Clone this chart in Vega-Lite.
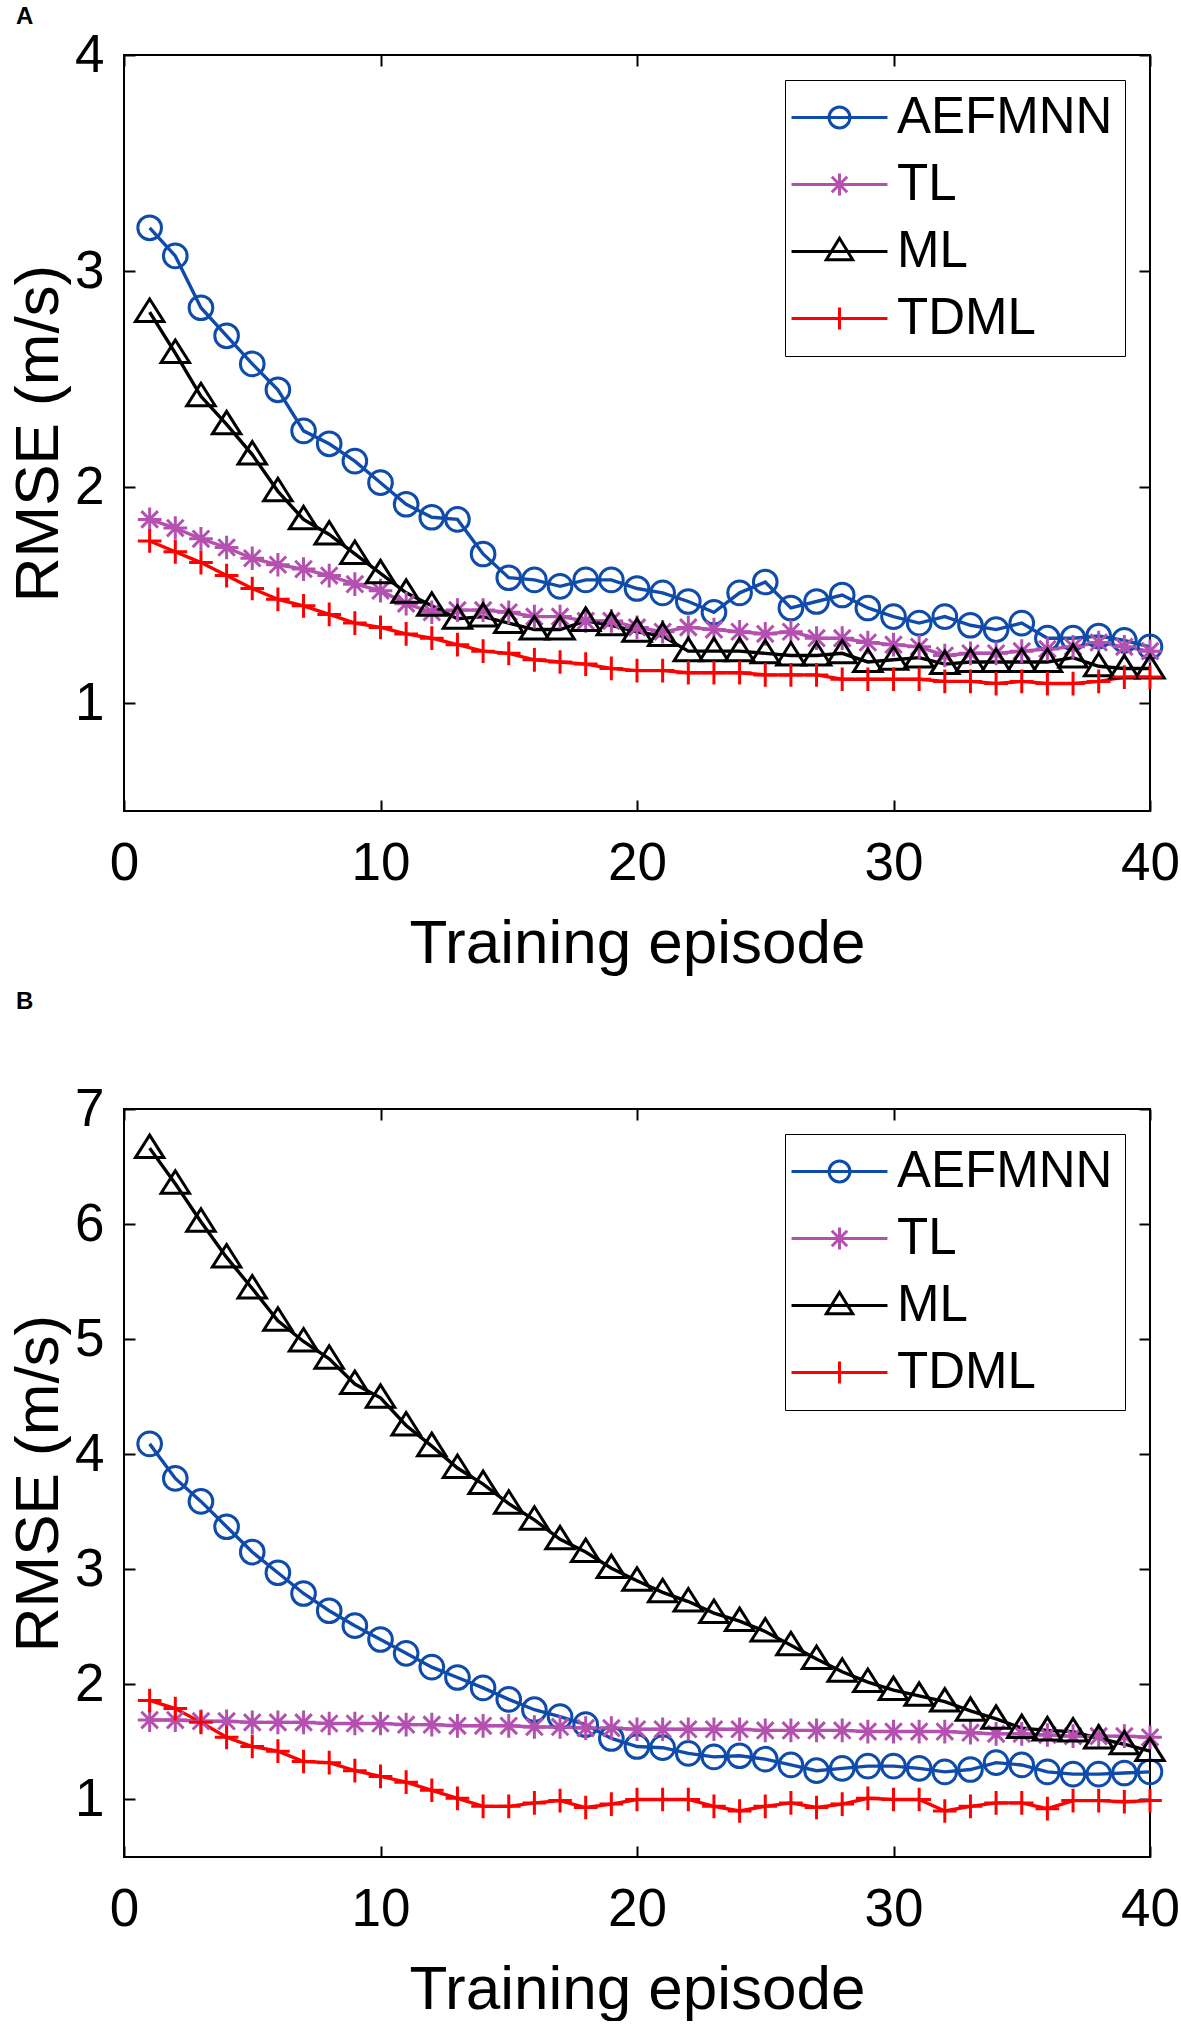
{
  "$schema": "https://vega.github.io/schema/vega-lite/v6.json",
  "background": "white",
  "padding": {"left": 6, "top": 4, "right": 1, "bottom": 0},
  "config": {
    "font": "Liberation Sans",
    "view": {"stroke": "black", "strokeWidth": 2},
    "axis": {"labelColor": "black", "titleColor": "black", "tickColor": "black", "tickWidth": 2, "grid": false, "domain": false}
  },
  "datasets": {
    "rmse": [
      {"panel": "A", "method": "AEFMNN", "episode": 1, "rmse": 3.20}, {"panel": "A", "method": "AEFMNN", "episode": 2, "rmse": 3.07}, {"panel": "A", "method": "AEFMNN", "episode": 3, "rmse": 2.83}, {"panel": "A", "method": "AEFMNN", "episode": 4, "rmse": 2.70},
      {"panel": "A", "method": "AEFMNN", "episode": 5, "rmse": 2.57}, {"panel": "A", "method": "AEFMNN", "episode": 6, "rmse": 2.45}, {"panel": "A", "method": "AEFMNN", "episode": 7, "rmse": 2.26}, {"panel": "A", "method": "AEFMNN", "episode": 8, "rmse": 2.20},
      {"panel": "A", "method": "AEFMNN", "episode": 9, "rmse": 2.12}, {"panel": "A", "method": "AEFMNN", "episode": 10, "rmse": 2.02}, {"panel": "A", "method": "AEFMNN", "episode": 11, "rmse": 1.92}, {"panel": "A", "method": "AEFMNN", "episode": 12, "rmse": 1.86},
      {"panel": "A", "method": "AEFMNN", "episode": 13, "rmse": 1.85}, {"panel": "A", "method": "AEFMNN", "episode": 14, "rmse": 1.69}, {"panel": "A", "method": "AEFMNN", "episode": 15, "rmse": 1.58}, {"panel": "A", "method": "AEFMNN", "episode": 16, "rmse": 1.57},
      {"panel": "A", "method": "AEFMNN", "episode": 17, "rmse": 1.54}, {"panel": "A", "method": "AEFMNN", "episode": 18, "rmse": 1.57}, {"panel": "A", "method": "AEFMNN", "episode": 19, "rmse": 1.57}, {"panel": "A", "method": "AEFMNN", "episode": 20, "rmse": 1.53},
      {"panel": "A", "method": "AEFMNN", "episode": 21, "rmse": 1.51}, {"panel": "A", "method": "AEFMNN", "episode": 22, "rmse": 1.47}, {"panel": "A", "method": "AEFMNN", "episode": 23, "rmse": 1.42}, {"panel": "A", "method": "AEFMNN", "episode": 24, "rmse": 1.51},
      {"panel": "A", "method": "AEFMNN", "episode": 25, "rmse": 1.56}, {"panel": "A", "method": "AEFMNN", "episode": 26, "rmse": 1.44}, {"panel": "A", "method": "AEFMNN", "episode": 27, "rmse": 1.47}, {"panel": "A", "method": "AEFMNN", "episode": 28, "rmse": 1.50},
      {"panel": "A", "method": "AEFMNN", "episode": 29, "rmse": 1.44}, {"panel": "A", "method": "AEFMNN", "episode": 30, "rmse": 1.40}, {"panel": "A", "method": "AEFMNN", "episode": 31, "rmse": 1.37}, {"panel": "A", "method": "AEFMNN", "episode": 32, "rmse": 1.40},
      {"panel": "A", "method": "AEFMNN", "episode": 33, "rmse": 1.36}, {"panel": "A", "method": "AEFMNN", "episode": 34, "rmse": 1.34}, {"panel": "A", "method": "AEFMNN", "episode": 35, "rmse": 1.37}, {"panel": "A", "method": "AEFMNN", "episode": 36, "rmse": 1.30},
      {"panel": "A", "method": "AEFMNN", "episode": 37, "rmse": 1.30}, {"panel": "A", "method": "AEFMNN", "episode": 38, "rmse": 1.31}, {"panel": "A", "method": "AEFMNN", "episode": 39, "rmse": 1.29}, {"panel": "A", "method": "AEFMNN", "episode": 40, "rmse": 1.26},

      {"panel": "A", "method": "TL", "episode": 1, "rmse": 1.85}, {"panel": "A", "method": "TL", "episode": 2, "rmse": 1.81}, {"panel": "A", "method": "TL", "episode": 3, "rmse": 1.76}, {"panel": "A", "method": "TL", "episode": 4, "rmse": 1.72},
      {"panel": "A", "method": "TL", "episode": 5, "rmse": 1.67}, {"panel": "A", "method": "TL", "episode": 6, "rmse": 1.64}, {"panel": "A", "method": "TL", "episode": 7, "rmse": 1.62}, {"panel": "A", "method": "TL", "episode": 8, "rmse": 1.59},
      {"panel": "A", "method": "TL", "episode": 9, "rmse": 1.55}, {"panel": "A", "method": "TL", "episode": 10, "rmse": 1.52}, {"panel": "A", "method": "TL", "episode": 11, "rmse": 1.46}, {"panel": "A", "method": "TL", "episode": 12, "rmse": 1.42},
      {"panel": "A", "method": "TL", "episode": 13, "rmse": 1.43}, {"panel": "A", "method": "TL", "episode": 14, "rmse": 1.43}, {"panel": "A", "method": "TL", "episode": 15, "rmse": 1.42}, {"panel": "A", "method": "TL", "episode": 16, "rmse": 1.40},
      {"panel": "A", "method": "TL", "episode": 17, "rmse": 1.40}, {"panel": "A", "method": "TL", "episode": 18, "rmse": 1.38}, {"panel": "A", "method": "TL", "episode": 19, "rmse": 1.38}, {"panel": "A", "method": "TL", "episode": 20, "rmse": 1.35},
      {"panel": "A", "method": "TL", "episode": 21, "rmse": 1.33}, {"panel": "A", "method": "TL", "episode": 22, "rmse": 1.35}, {"panel": "A", "method": "TL", "episode": 23, "rmse": 1.34}, {"panel": "A", "method": "TL", "episode": 24, "rmse": 1.33},
      {"panel": "A", "method": "TL", "episode": 25, "rmse": 1.32}, {"panel": "A", "method": "TL", "episode": 26, "rmse": 1.33}, {"panel": "A", "method": "TL", "episode": 27, "rmse": 1.30}, {"panel": "A", "method": "TL", "episode": 28, "rmse": 1.30},
      {"panel": "A", "method": "TL", "episode": 29, "rmse": 1.28}, {"panel": "A", "method": "TL", "episode": 30, "rmse": 1.27}, {"panel": "A", "method": "TL", "episode": 31, "rmse": 1.26}, {"panel": "A", "method": "TL", "episode": 32, "rmse": 1.22},
      {"panel": "A", "method": "TL", "episode": 33, "rmse": 1.23}, {"panel": "A", "method": "TL", "episode": 34, "rmse": 1.23}, {"panel": "A", "method": "TL", "episode": 35, "rmse": 1.24}, {"panel": "A", "method": "TL", "episode": 36, "rmse": 1.25},
      {"panel": "A", "method": "TL", "episode": 37, "rmse": 1.26}, {"panel": "A", "method": "TL", "episode": 38, "rmse": 1.28}, {"panel": "A", "method": "TL", "episode": 39, "rmse": 1.26}, {"panel": "A", "method": "TL", "episode": 40, "rmse": 1.24},

      {"panel": "A", "method": "ML", "episode": 1, "rmse": 2.81}, {"panel": "A", "method": "ML", "episode": 2, "rmse": 2.62}, {"panel": "A", "method": "ML", "episode": 3, "rmse": 2.42}, {"panel": "A", "method": "ML", "episode": 4, "rmse": 2.29},
      {"panel": "A", "method": "ML", "episode": 5, "rmse": 2.15}, {"panel": "A", "method": "ML", "episode": 6, "rmse": 1.98}, {"panel": "A", "method": "ML", "episode": 7, "rmse": 1.85}, {"panel": "A", "method": "ML", "episode": 8, "rmse": 1.78},
      {"panel": "A", "method": "ML", "episode": 9, "rmse": 1.69}, {"panel": "A", "method": "ML", "episode": 10, "rmse": 1.60}, {"panel": "A", "method": "ML", "episode": 11, "rmse": 1.51}, {"panel": "A", "method": "ML", "episode": 12, "rmse": 1.45},
      {"panel": "A", "method": "ML", "episode": 13, "rmse": 1.39}, {"panel": "A", "method": "ML", "episode": 14, "rmse": 1.40}, {"panel": "A", "method": "ML", "episode": 15, "rmse": 1.37}, {"panel": "A", "method": "ML", "episode": 16, "rmse": 1.34},
      {"panel": "A", "method": "ML", "episode": 17, "rmse": 1.34}, {"panel": "A", "method": "ML", "episode": 18, "rmse": 1.38}, {"panel": "A", "method": "ML", "episode": 19, "rmse": 1.36}, {"panel": "A", "method": "ML", "episode": 20, "rmse": 1.33},
      {"panel": "A", "method": "ML", "episode": 21, "rmse": 1.31}, {"panel": "A", "method": "ML", "episode": 22, "rmse": 1.24}, {"panel": "A", "method": "ML", "episode": 23, "rmse": 1.24}, {"panel": "A", "method": "ML", "episode": 24, "rmse": 1.24},
      {"panel": "A", "method": "ML", "episode": 25, "rmse": 1.23}, {"panel": "A", "method": "ML", "episode": 26, "rmse": 1.22}, {"panel": "A", "method": "ML", "episode": 27, "rmse": 1.22}, {"panel": "A", "method": "ML", "episode": 28, "rmse": 1.23},
      {"panel": "A", "method": "ML", "episode": 29, "rmse": 1.19}, {"panel": "A", "method": "ML", "episode": 30, "rmse": 1.20}, {"panel": "A", "method": "ML", "episode": 31, "rmse": 1.21}, {"panel": "A", "method": "ML", "episode": 32, "rmse": 1.18},
      {"panel": "A", "method": "ML", "episode": 33, "rmse": 1.19}, {"panel": "A", "method": "ML", "episode": 34, "rmse": 1.19}, {"panel": "A", "method": "ML", "episode": 35, "rmse": 1.19}, {"panel": "A", "method": "ML", "episode": 36, "rmse": 1.19},
      {"panel": "A", "method": "ML", "episode": 37, "rmse": 1.21}, {"panel": "A", "method": "ML", "episode": 38, "rmse": 1.17}, {"panel": "A", "method": "ML", "episode": 39, "rmse": 1.16}, {"panel": "A", "method": "ML", "episode": 40, "rmse": 1.16},

      {"panel": "A", "method": "TDML", "episode": 1, "rmse": 1.75}, {"panel": "A", "method": "TDML", "episode": 2, "rmse": 1.70}, {"panel": "A", "method": "TDML", "episode": 3, "rmse": 1.65}, {"panel": "A", "method": "TDML", "episode": 4, "rmse": 1.59},
      {"panel": "A", "method": "TDML", "episode": 5, "rmse": 1.53}, {"panel": "A", "method": "TDML", "episode": 6, "rmse": 1.48}, {"panel": "A", "method": "TDML", "episode": 7, "rmse": 1.45}, {"panel": "A", "method": "TDML", "episode": 8, "rmse": 1.41},
      {"panel": "A", "method": "TDML", "episode": 9, "rmse": 1.37}, {"panel": "A", "method": "TDML", "episode": 10, "rmse": 1.35}, {"panel": "A", "method": "TDML", "episode": 11, "rmse": 1.32}, {"panel": "A", "method": "TDML", "episode": 12, "rmse": 1.30},
      {"panel": "A", "method": "TDML", "episode": 13, "rmse": 1.27}, {"panel": "A", "method": "TDML", "episode": 14, "rmse": 1.24}, {"panel": "A", "method": "TDML", "episode": 15, "rmse": 1.23}, {"panel": "A", "method": "TDML", "episode": 16, "rmse": 1.20},
      {"panel": "A", "method": "TDML", "episode": 17, "rmse": 1.19}, {"panel": "A", "method": "TDML", "episode": 18, "rmse": 1.18}, {"panel": "A", "method": "TDML", "episode": 19, "rmse": 1.16}, {"panel": "A", "method": "TDML", "episode": 20, "rmse": 1.15},
      {"panel": "A", "method": "TDML", "episode": 21, "rmse": 1.15}, {"panel": "A", "method": "TDML", "episode": 22, "rmse": 1.14}, {"panel": "A", "method": "TDML", "episode": 23, "rmse": 1.14}, {"panel": "A", "method": "TDML", "episode": 24, "rmse": 1.14},
      {"panel": "A", "method": "TDML", "episode": 25, "rmse": 1.13}, {"panel": "A", "method": "TDML", "episode": 26, "rmse": 1.13}, {"panel": "A", "method": "TDML", "episode": 27, "rmse": 1.13}, {"panel": "A", "method": "TDML", "episode": 28, "rmse": 1.11},
      {"panel": "A", "method": "TDML", "episode": 29, "rmse": 1.11}, {"panel": "A", "method": "TDML", "episode": 30, "rmse": 1.11}, {"panel": "A", "method": "TDML", "episode": 31, "rmse": 1.11}, {"panel": "A", "method": "TDML", "episode": 32, "rmse": 1.10},
      {"panel": "A", "method": "TDML", "episode": 33, "rmse": 1.10}, {"panel": "A", "method": "TDML", "episode": 34, "rmse": 1.09}, {"panel": "A", "method": "TDML", "episode": 35, "rmse": 1.10}, {"panel": "A", "method": "TDML", "episode": 36, "rmse": 1.09},
      {"panel": "A", "method": "TDML", "episode": 37, "rmse": 1.09}, {"panel": "A", "method": "TDML", "episode": 38, "rmse": 1.10}, {"panel": "A", "method": "TDML", "episode": 39, "rmse": 1.12}, {"panel": "A", "method": "TDML", "episode": 40, "rmse": 1.12},

      {"panel": "B", "method": "AEFMNN", "episode": 1, "rmse": 4.09}, {"panel": "B", "method": "AEFMNN", "episode": 2, "rmse": 3.79}, {"panel": "B", "method": "AEFMNN", "episode": 3, "rmse": 3.59}, {"panel": "B", "method": "AEFMNN", "episode": 4, "rmse": 3.37},
      {"panel": "B", "method": "AEFMNN", "episode": 5, "rmse": 3.15}, {"panel": "B", "method": "AEFMNN", "episode": 6, "rmse": 2.97}, {"panel": "B", "method": "AEFMNN", "episode": 7, "rmse": 2.79}, {"panel": "B", "method": "AEFMNN", "episode": 8, "rmse": 2.64},
      {"panel": "B", "method": "AEFMNN", "episode": 9, "rmse": 2.51}, {"panel": "B", "method": "AEFMNN", "episode": 10, "rmse": 2.39}, {"panel": "B", "method": "AEFMNN", "episode": 11, "rmse": 2.27}, {"panel": "B", "method": "AEFMNN", "episode": 12, "rmse": 2.15},
      {"panel": "B", "method": "AEFMNN", "episode": 13, "rmse": 2.06}, {"panel": "B", "method": "AEFMNN", "episode": 14, "rmse": 1.97}, {"panel": "B", "method": "AEFMNN", "episode": 15, "rmse": 1.87}, {"panel": "B", "method": "AEFMNN", "episode": 16, "rmse": 1.78},
      {"panel": "B", "method": "AEFMNN", "episode": 17, "rmse": 1.72}, {"panel": "B", "method": "AEFMNN", "episode": 18, "rmse": 1.65}, {"panel": "B", "method": "AEFMNN", "episode": 19, "rmse": 1.53}, {"panel": "B", "method": "AEFMNN", "episode": 20, "rmse": 1.46},
      {"panel": "B", "method": "AEFMNN", "episode": 21, "rmse": 1.45}, {"panel": "B", "method": "AEFMNN", "episode": 22, "rmse": 1.40}, {"panel": "B", "method": "AEFMNN", "episode": 23, "rmse": 1.37}, {"panel": "B", "method": "AEFMNN", "episode": 24, "rmse": 1.38},
      {"panel": "B", "method": "AEFMNN", "episode": 25, "rmse": 1.35}, {"panel": "B", "method": "AEFMNN", "episode": 26, "rmse": 1.30}, {"panel": "B", "method": "AEFMNN", "episode": 27, "rmse": 1.25}, {"panel": "B", "method": "AEFMNN", "episode": 28, "rmse": 1.27},
      {"panel": "B", "method": "AEFMNN", "episode": 29, "rmse": 1.29}, {"panel": "B", "method": "AEFMNN", "episode": 30, "rmse": 1.29}, {"panel": "B", "method": "AEFMNN", "episode": 31, "rmse": 1.27}, {"panel": "B", "method": "AEFMNN", "episode": 32, "rmse": 1.24},
      {"panel": "B", "method": "AEFMNN", "episode": 33, "rmse": 1.26}, {"panel": "B", "method": "AEFMNN", "episode": 34, "rmse": 1.32}, {"panel": "B", "method": "AEFMNN", "episode": 35, "rmse": 1.30}, {"panel": "B", "method": "AEFMNN", "episode": 36, "rmse": 1.24},
      {"panel": "B", "method": "AEFMNN", "episode": 37, "rmse": 1.22}, {"panel": "B", "method": "AEFMNN", "episode": 38, "rmse": 1.22}, {"panel": "B", "method": "AEFMNN", "episode": 39, "rmse": 1.23}, {"panel": "B", "method": "AEFMNN", "episode": 40, "rmse": 1.24},

      {"panel": "B", "method": "TL", "episode": 1, "rmse": 1.69}, {"panel": "B", "method": "TL", "episode": 2, "rmse": 1.69}, {"panel": "B", "method": "TL", "episode": 3, "rmse": 1.68}, {"panel": "B", "method": "TL", "episode": 4, "rmse": 1.68},
      {"panel": "B", "method": "TL", "episode": 5, "rmse": 1.67}, {"panel": "B", "method": "TL", "episode": 6, "rmse": 1.67}, {"panel": "B", "method": "TL", "episode": 7, "rmse": 1.67}, {"panel": "B", "method": "TL", "episode": 8, "rmse": 1.66},
      {"panel": "B", "method": "TL", "episode": 9, "rmse": 1.66}, {"panel": "B", "method": "TL", "episode": 10, "rmse": 1.66}, {"panel": "B", "method": "TL", "episode": 11, "rmse": 1.65}, {"panel": "B", "method": "TL", "episode": 12, "rmse": 1.65},
      {"panel": "B", "method": "TL", "episode": 13, "rmse": 1.64}, {"panel": "B", "method": "TL", "episode": 14, "rmse": 1.64}, {"panel": "B", "method": "TL", "episode": 15, "rmse": 1.64}, {"panel": "B", "method": "TL", "episode": 16, "rmse": 1.63},
      {"panel": "B", "method": "TL", "episode": 17, "rmse": 1.63}, {"panel": "B", "method": "TL", "episode": 18, "rmse": 1.62}, {"panel": "B", "method": "TL", "episode": 19, "rmse": 1.62}, {"panel": "B", "method": "TL", "episode": 20, "rmse": 1.61},
      {"panel": "B", "method": "TL", "episode": 21, "rmse": 1.61}, {"panel": "B", "method": "TL", "episode": 22, "rmse": 1.61}, {"panel": "B", "method": "TL", "episode": 23, "rmse": 1.61}, {"panel": "B", "method": "TL", "episode": 24, "rmse": 1.61},
      {"panel": "B", "method": "TL", "episode": 25, "rmse": 1.60}, {"panel": "B", "method": "TL", "episode": 26, "rmse": 1.60}, {"panel": "B", "method": "TL", "episode": 27, "rmse": 1.60}, {"panel": "B", "method": "TL", "episode": 28, "rmse": 1.60},
      {"panel": "B", "method": "TL", "episode": 29, "rmse": 1.59}, {"panel": "B", "method": "TL", "episode": 30, "rmse": 1.59}, {"panel": "B", "method": "TL", "episode": 31, "rmse": 1.59}, {"panel": "B", "method": "TL", "episode": 32, "rmse": 1.59},
      {"panel": "B", "method": "TL", "episode": 33, "rmse": 1.58}, {"panel": "B", "method": "TL", "episode": 34, "rmse": 1.57}, {"panel": "B", "method": "TL", "episode": 35, "rmse": 1.57}, {"panel": "B", "method": "TL", "episode": 36, "rmse": 1.56},
      {"panel": "B", "method": "TL", "episode": 37, "rmse": 1.55}, {"panel": "B", "method": "TL", "episode": 38, "rmse": 1.55}, {"panel": "B", "method": "TL", "episode": 39, "rmse": 1.55}, {"panel": "B", "method": "TL", "episode": 40, "rmse": 1.54},

      {"panel": "B", "method": "ML", "episode": 1, "rmse": 6.66}, {"panel": "B", "method": "ML", "episode": 2, "rmse": 6.35}, {"panel": "B", "method": "ML", "episode": 3, "rmse": 6.02}, {"panel": "B", "method": "ML", "episode": 4, "rmse": 5.71},
      {"panel": "B", "method": "ML", "episode": 5, "rmse": 5.44}, {"panel": "B", "method": "ML", "episode": 6, "rmse": 5.16}, {"panel": "B", "method": "ML", "episode": 7, "rmse": 4.98}, {"panel": "B", "method": "ML", "episode": 8, "rmse": 4.83},
      {"panel": "B", "method": "ML", "episode": 9, "rmse": 4.61}, {"panel": "B", "method": "ML", "episode": 10, "rmse": 4.49}, {"panel": "B", "method": "ML", "episode": 11, "rmse": 4.25}, {"panel": "B", "method": "ML", "episode": 12, "rmse": 4.07},
      {"panel": "B", "method": "ML", "episode": 13, "rmse": 3.88}, {"panel": "B", "method": "ML", "episode": 14, "rmse": 3.74}, {"panel": "B", "method": "ML", "episode": 15, "rmse": 3.57}, {"panel": "B", "method": "ML", "episode": 16, "rmse": 3.43},
      {"panel": "B", "method": "ML", "episode": 17, "rmse": 3.26}, {"panel": "B", "method": "ML", "episode": 18, "rmse": 3.15}, {"panel": "B", "method": "ML", "episode": 19, "rmse": 3.01}, {"panel": "B", "method": "ML", "episode": 20, "rmse": 2.90},
      {"panel": "B", "method": "ML", "episode": 21, "rmse": 2.80}, {"panel": "B", "method": "ML", "episode": 22, "rmse": 2.72}, {"panel": "B", "method": "ML", "episode": 23, "rmse": 2.62}, {"panel": "B", "method": "ML", "episode": 24, "rmse": 2.55},
      {"panel": "B", "method": "ML", "episode": 25, "rmse": 2.46}, {"panel": "B", "method": "ML", "episode": 26, "rmse": 2.34}, {"panel": "B", "method": "ML", "episode": 27, "rmse": 2.22}, {"panel": "B", "method": "ML", "episode": 28, "rmse": 2.11},
      {"panel": "B", "method": "ML", "episode": 29, "rmse": 2.02}, {"panel": "B", "method": "ML", "episode": 30, "rmse": 1.95}, {"panel": "B", "method": "ML", "episode": 31, "rmse": 1.90}, {"panel": "B", "method": "ML", "episode": 32, "rmse": 1.85},
      {"panel": "B", "method": "ML", "episode": 33, "rmse": 1.77}, {"panel": "B", "method": "ML", "episode": 34, "rmse": 1.70}, {"panel": "B", "method": "ML", "episode": 35, "rmse": 1.62}, {"panel": "B", "method": "ML", "episode": 36, "rmse": 1.60},
      {"panel": "B", "method": "ML", "episode": 37, "rmse": 1.59}, {"panel": "B", "method": "ML", "episode": 38, "rmse": 1.53}, {"panel": "B", "method": "ML", "episode": 39, "rmse": 1.48}, {"panel": "B", "method": "ML", "episode": 40, "rmse": 1.42},

      {"panel": "B", "method": "TDML", "episode": 1, "rmse": 1.86}, {"panel": "B", "method": "TDML", "episode": 2, "rmse": 1.79}, {"panel": "B", "method": "TDML", "episode": 3, "rmse": 1.67}, {"panel": "B", "method": "TDML", "episode": 4, "rmse": 1.54},
      {"panel": "B", "method": "TDML", "episode": 5, "rmse": 1.46}, {"panel": "B", "method": "TDML", "episode": 6, "rmse": 1.42}, {"panel": "B", "method": "TDML", "episode": 7, "rmse": 1.33}, {"panel": "B", "method": "TDML", "episode": 8, "rmse": 1.32},
      {"panel": "B", "method": "TDML", "episode": 9, "rmse": 1.25}, {"panel": "B", "method": "TDML", "episode": 10, "rmse": 1.20}, {"panel": "B", "method": "TDML", "episode": 11, "rmse": 1.15}, {"panel": "B", "method": "TDML", "episode": 12, "rmse": 1.08},
      {"panel": "B", "method": "TDML", "episode": 13, "rmse": 1.01}, {"panel": "B", "method": "TDML", "episode": 14, "rmse": 0.94}, {"panel": "B", "method": "TDML", "episode": 15, "rmse": 0.94}, {"panel": "B", "method": "TDML", "episode": 16, "rmse": 0.97},
      {"panel": "B", "method": "TDML", "episode": 17, "rmse": 0.99}, {"panel": "B", "method": "TDML", "episode": 18, "rmse": 0.93}, {"panel": "B", "method": "TDML", "episode": 19, "rmse": 0.96}, {"panel": "B", "method": "TDML", "episode": 20, "rmse": 1.00},
      {"panel": "B", "method": "TDML", "episode": 21, "rmse": 1.00}, {"panel": "B", "method": "TDML", "episode": 22, "rmse": 1.00}, {"panel": "B", "method": "TDML", "episode": 23, "rmse": 0.94}, {"panel": "B", "method": "TDML", "episode": 24, "rmse": 0.90},
      {"panel": "B", "method": "TDML", "episode": 25, "rmse": 0.94}, {"panel": "B", "method": "TDML", "episode": 26, "rmse": 0.97}, {"panel": "B", "method": "TDML", "episode": 27, "rmse": 0.93}, {"panel": "B", "method": "TDML", "episode": 28, "rmse": 0.96},
      {"panel": "B", "method": "TDML", "episode": 29, "rmse": 1.01}, {"panel": "B", "method": "TDML", "episode": 30, "rmse": 1.00}, {"panel": "B", "method": "TDML", "episode": 31, "rmse": 1.00}, {"panel": "B", "method": "TDML", "episode": 32, "rmse": 0.90},
      {"panel": "B", "method": "TDML", "episode": 33, "rmse": 0.94}, {"panel": "B", "method": "TDML", "episode": 34, "rmse": 0.97}, {"panel": "B", "method": "TDML", "episode": 35, "rmse": 0.97}, {"panel": "B", "method": "TDML", "episode": 36, "rmse": 0.92},
      {"panel": "B", "method": "TDML", "episode": 37, "rmse": 0.99}, {"panel": "B", "method": "TDML", "episode": 38, "rmse": 0.99}, {"panel": "B", "method": "TDML", "episode": 39, "rmse": 0.98}, {"panel": "B", "method": "TDML", "episode": 40, "rmse": 0.99}
    ]
  },
  "resolve": {"legend": {"color": "independent"}},
  "spacing": 14,
  "vconcat": [
    {
      "title": {"text": "A", "anchor": "start", "frame": "group", "dx": -108, "offset": 0, "fontSize": 24, "fontWeight": "bold", "color": "black"},
      "width": 1026,
      "height": 756,
      "data": {"name": "rmse"},
      "transform": [{"filter": "datum.panel === 'A'"}],
      "encoding": {
        "x": {"field": "episode", "type": "quantitative", "scale": {"domain": [0, 40], "nice": false, "zero": false}},
        "y": {"field": "rmse", "type": "quantitative", "scale": {"domain": [0.5, 4], "nice": false, "zero": false}},
        "color": {
          "field": "method", "type": "nominal",
          "scale": {"domain": ["AEFMNN", "TL", "ML", "TDML"], "range": ["#0f4baa", "#b450b0", "#000000", "#ff0000"]},
          "legend": {
            "title": null, "orient": "top-right", "offset": 25, "padding": 12,
            "strokeColor": "black", "fillColor": "white",
            "labelFontSize": 51, "labelColor": "black", "labelOffset": 32, "labelLimit": 600,
            "symbolSize": 484, "symbolStrokeWidth": 3, "symbolOffset": 17, "rowPadding": 15,
            "encode": {"symbols": {"update": {
              "fill": {"value": "transparent"},
              "shape": {"signal": "datum.value === 'AEFMNN' ? 'M-4.36,0L4.36,0M0.95,0A0.95,0.95 0 1 1 -0.95,0A0.95,0.95 0 1 1 0.95,0' : datum.value === 'TL' ? 'M-4.36,0L4.36,0M-1,0L1,0M0,-1L0,1M-0.7,-0.7L0.7,0.7M-0.7,0.7L0.7,-0.7' : datum.value === 'ML' ? 'M-4.36,0L4.36,0M0,-1.2L-1.2,0.75L1.2,0.75Z' : 'M-4.36,0L4.36,0M0,-1L0,1'"}
            }}}
          }
        }
      },
      "layer": [
        {
          "mark": {"type": "line", "strokeWidth": 3.4},
          "encoding": {
            "x": {"field": "episode", "type": "quantitative", "axis": {"orient": "bottom", "values": [0, 10, 20, 30, 40], "title": "Training episode", "tickSize": -11, "labelPadding": 37, "labelFontSize": 53, "labelFlush": false, "titleFontSize": 62, "titleFontWeight": "normal", "titlePadding": 23}},
            "y": {"field": "rmse", "type": "quantitative", "axis": {"orient": "left", "values": [1, 2, 3, 4], "title": "RMSE (m/s)", "tickSize": -11, "labelPadding": 31, "labelFontSize": 53, "titleFontSize": 62, "titleFontWeight": "normal", "titlePadding": 4}}
          }
        },
        {
          "mark": {"type": "point", "filled": false, "strokeWidth": 3, "opacity": 1},
          "encoding": {
            "x": {"field": "episode", "type": "quantitative", "axis": {"orient": "top", "values": [0, 10, 20, 30, 40], "labels": false, "title": null, "tickSize": -11}},
            "y": {"field": "rmse", "type": "quantitative", "axis": {"orient": "right", "values": [1, 2, 3, 4], "labels": false, "title": null, "tickSize": -11}},
            "shape": {"field": "method", "type": "nominal", "legend": null, "scale": {"domain": ["AEFMNN", "TL", "ML", "TDML"], "range": ["M1,0A1,1 0 1 1 -1,0A1,1 0 1 1 1,0", "M-1,0L1,0M0,-1L0,1M-0.7,-0.7L0.7,0.7M-0.7,0.7L0.7,-0.7", "M0,-1.1L-1.2,0.8L1.2,0.8Z", "M-1,0L1,0M0,-1L0,1"]}},
            "size": {"value": 560}
          }
        }
      ],
      "resolve": {"axis": {"x": "independent", "y": "independent"}}
    },
    {
      "title": {"text": "B", "anchor": "start", "frame": "group", "dx": -108, "offset": 69, "fontSize": 24, "fontWeight": "bold", "color": "black"},
      "width": 1026,
      "height": 748,
      "data": {"name": "rmse"},
      "transform": [{"filter": "datum.panel === 'B'"}],
      "encoding": {
        "x": {"field": "episode", "type": "quantitative", "scale": {"domain": [0, 40], "nice": false, "zero": false}},
        "y": {"field": "rmse", "type": "quantitative", "scale": {"domain": [0.5, 7], "nice": false, "zero": false}},
        "color": {
          "field": "method", "type": "nominal",
          "scale": {"domain": ["AEFMNN", "TL", "ML", "TDML"], "range": ["#0f4baa", "#b450b0", "#000000", "#ff0000"]},
          "legend": {
            "title": null, "orient": "top-right", "offset": 25, "padding": 12,
            "strokeColor": "black", "fillColor": "white",
            "labelFontSize": 51, "labelColor": "black", "labelOffset": 32, "labelLimit": 600,
            "symbolSize": 484, "symbolStrokeWidth": 3, "symbolOffset": 17, "rowPadding": 15,
            "encode": {"symbols": {"update": {
              "fill": {"value": "transparent"},
              "shape": {"signal": "datum.value === 'AEFMNN' ? 'M-4.36,0L4.36,0M0.95,0A0.95,0.95 0 1 1 -0.95,0A0.95,0.95 0 1 1 0.95,0' : datum.value === 'TL' ? 'M-4.36,0L4.36,0M-1,0L1,0M0,-1L0,1M-0.7,-0.7L0.7,0.7M-0.7,0.7L0.7,-0.7' : datum.value === 'ML' ? 'M-4.36,0L4.36,0M0,-1.2L-1.2,0.75L1.2,0.75Z' : 'M-4.36,0L4.36,0M0,-1L0,1'"}
            }}}
          }
        }
      },
      "layer": [
        {
          "mark": {"type": "line", "strokeWidth": 3.4},
          "encoding": {
            "x": {"field": "episode", "type": "quantitative", "axis": {"orient": "bottom", "values": [0, 10, 20, 30, 40], "title": "Training episode", "tickSize": -11, "labelPadding": 37, "labelFontSize": 53, "labelFlush": false, "titleFontSize": 62, "titleFontWeight": "normal", "titlePadding": 23}},
            "y": {"field": "rmse", "type": "quantitative", "axis": {"orient": "left", "values": [1, 2, 3, 4, 5, 6, 7], "title": "RMSE (m/s)", "tickSize": -11, "labelPadding": 31, "labelFontSize": 53, "titleFontSize": 62, "titleFontWeight": "normal", "titlePadding": 4}}
          }
        },
        {
          "mark": {"type": "point", "filled": false, "strokeWidth": 3, "opacity": 1},
          "encoding": {
            "x": {"field": "episode", "type": "quantitative", "axis": {"orient": "top", "values": [0, 10, 20, 30, 40], "labels": false, "title": null, "tickSize": -11}},
            "y": {"field": "rmse", "type": "quantitative", "axis": {"orient": "right", "values": [1, 2, 3, 4, 5, 6, 7], "labels": false, "title": null, "tickSize": -11}},
            "shape": {"field": "method", "type": "nominal", "legend": null, "scale": {"domain": ["AEFMNN", "TL", "ML", "TDML"], "range": ["M1,0A1,1 0 1 1 -1,0A1,1 0 1 1 1,0", "M-1,0L1,0M0,-1L0,1M-0.7,-0.7L0.7,0.7M-0.7,0.7L0.7,-0.7", "M0,-1.1L-1.2,0.8L1.2,0.8Z", "M-1,0L1,0M0,-1L0,1"]}},
            "size": {"value": 560}
          }
        }
      ],
      "resolve": {"axis": {"x": "independent", "y": "independent"}}
    }
  ]
}
